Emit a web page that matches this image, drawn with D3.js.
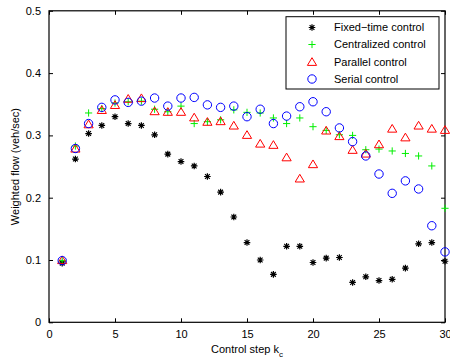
<!DOCTYPE html>
<html>
<head>
<meta charset="utf-8">
<script src="https://cdn.jsdelivr.net/npm/d3@7"></script>
<style>
  html, body { margin: 0; padding: 0; background: #fff; }
  svg { display: block; font-family: "Liberation Sans", Arial, Helvetica, sans-serif; }
</style>
</head>
<body>
<svg id="chart" width="450" height="363"></svg>
<script>
const steps = [1,2,3,4,5,6,7,8,9,10,11,12,13,14,15,16,17,18,19,20,21,22,23,24,25,26,27,28,29,30];

const fixedTime = [0.095,0.262,0.303,0.316,0.330,0.319,0.316,0.301,0.270,0.258,0.251,0.234,0.209,0.169,0.128,0.100,0.077,0.122,0.122,0.096,0.103,0.104,0.064,0.073,0.067,0.069,0.087,0.126,0.128,0.098];
const centralized = [0.099,0.283,0.336,0.343,0.352,0.354,0.355,0.342,0.338,0.347,0.319,0.322,0.325,0.341,0.337,0.336,0.328,0.319,0.328,0.314,0.308,0.301,0.300,0.277,0.278,0.275,0.271,0.267,0.251,0.183];
const parallel = [0.100,0.279,0.318,0.341,0.349,0.359,0.360,0.339,0.338,0.338,0.329,0.322,0.323,0.316,0.301,0.287,0.285,0.265,0.231,0.254,0.308,0.299,0.277,0.271,0.286,0.311,0.297,0.316,0.311,0.309];
const serial = [0.099,0.279,0.319,0.345,0.357,0.353,0.355,0.360,0.347,0.360,0.361,0.349,0.345,0.347,0.330,0.342,0.319,0.331,0.346,0.354,0.338,0.312,0.290,0.267,0.238,0.207,0.227,0.214,0.155,0.113];

const xTicks = [0,5,10,15,20,25,30];
const yTicks = [0,0.1,0.2,0.3,0.4,0.5];
const seriesNames = ["Fixed\u2212time control","Centralized control","Parallel control","Serial control"];
const seriesColors = ["#000000","#00ee00","#ff0000","#0000ff"];
const seriesMarkers = ["star","plus","triangle","circle"];
const seriesValues = [fixedTime, centralized, parallel, serial];

const svg = d3.select("#chart");
const pLeft = 49, pRight = 445, pTop = 10.8, pBottom = 322.3;
const x = d3.scaleLinear().domain([0,30]).range([pLeft,pRight]);
const y = d3.scaleLinear().domain([0,0.5]).range([pBottom,pTop]);

function markerPath(type) {
  if (type === "star") {
    const r = 3.3, d = r * 0.72;
    return `M${-r},0L${r},0M0,${-r}L0,${r}M${-d},${-d}L${d},${d}M${-d},${d}L${d},${-d}`;
  }
  if (type === "plus") {
    const r = 3.6;
    return `M${-r},0L${r},0M0,${-r}L0,${r}`;
  }
  return `M0,-4.1L4.6,3.6L-4.6,3.6Z`;
}

function drawMarker(g, type, color) {
  if (type === "circle") {
    g.append("circle").attr("r", 4.2).attr("fill", "none").attr("stroke", color).attr("stroke-width", 1);
  } else {
    g.append("path").attr("d", markerPath(type)).attr("fill", "none").attr("stroke", color)
      .attr("stroke-width", type === "star" ? 1.2 : 1);
  }
}

const xAxis = d3.axisBottom(x).tickValues(xTicks).tickSize(-4).tickPadding(8).tickFormat(d3.format("d"));
const xg = svg.append("g").attr("transform", `translate(0,${pBottom})`).call(xAxis);
const xTop = d3.axisTop(x).tickValues(xTicks).tickSize(-4).tickFormat("");
const xtg = svg.append("g").attr("transform", `translate(0,${pTop})`).call(xTop);
const yAxis = d3.axisLeft(y).tickValues(yTicks).tickSize(-4).tickPadding(8).tickFormat(d => d === 0 ? "0" : d3.format(".1f")(d));
const yg = svg.append("g").attr("transform", `translate(${pLeft},0)`).call(yAxis);
const yRight = d3.axisRight(y).tickValues(yTicks).tickSize(-4).tickFormat("");
const yrg = svg.append("g").attr("transform", `translate(${pRight},0)`).call(yRight);

[xg, xtg, yg, yrg].forEach(g => {
  g.select(".domain").remove();
  g.selectAll(".tick line").attr("stroke", "#000").attr("stroke-width", 1);
  g.selectAll(".tick text").attr("fill", "#000").style("font-size", "11px")
    .style("font-family", "'Liberation Sans', Arial, sans-serif");
});

svg.append("rect").attr("x", pLeft).attr("y", pTop).attr("width", pRight-pLeft).attr("height", pBottom-pTop)
  .attr("fill", "none").attr("stroke", "#000").attr("stroke-width", 1.2);

seriesValues.forEach((vals, si) => {
  const g = svg.append("g");
  vals.forEach((v, i) => {
    const mg = g.append("g").attr("transform", `translate(${x(steps[i])},${y(v)})`);
    drawMarker(mg, seriesMarkers[si], seriesColors[si]);
  });
});

const lg = svg.append("g");
lg.append("rect").attr("x", 286).attr("y", 16.7).attr("width", 153).attr("height", 72.3)
  .attr("fill", "#fff").attr("stroke", "#000").attr("stroke-width", 1);
const legendY = [27.5, 44.5, 61.8, 79];
seriesNames.forEach((name, i) => {
  const mg = lg.append("g").attr("transform", `translate(312,${legendY[i]})`);
  drawMarker(mg, seriesMarkers[i], seriesColors[i]);
  lg.append("text").attr("x", 334).attr("y", legendY[i]).attr("dy", "0.36em")
    .style("font-size", "11px").attr("fill", "#000").text(name);
});

const xl = svg.append("text").attr("x", 247).attr("y", 353).attr("text-anchor", "middle")
  .style("font-size", "11px").attr("fill", "#000");
xl.append("tspan").text("Control step k");
xl.append("tspan").attr("dy", 4).style("font-size", "8px").text("c");

svg.append("text").attr("transform", `translate(19,${(pTop+pBottom)/2}) rotate(-90)`)
  .attr("text-anchor", "middle").style("font-size", "11px").attr("fill", "#000")
  .text("Weighted flow (veh/sec)");
</script>
</body>
</html>
